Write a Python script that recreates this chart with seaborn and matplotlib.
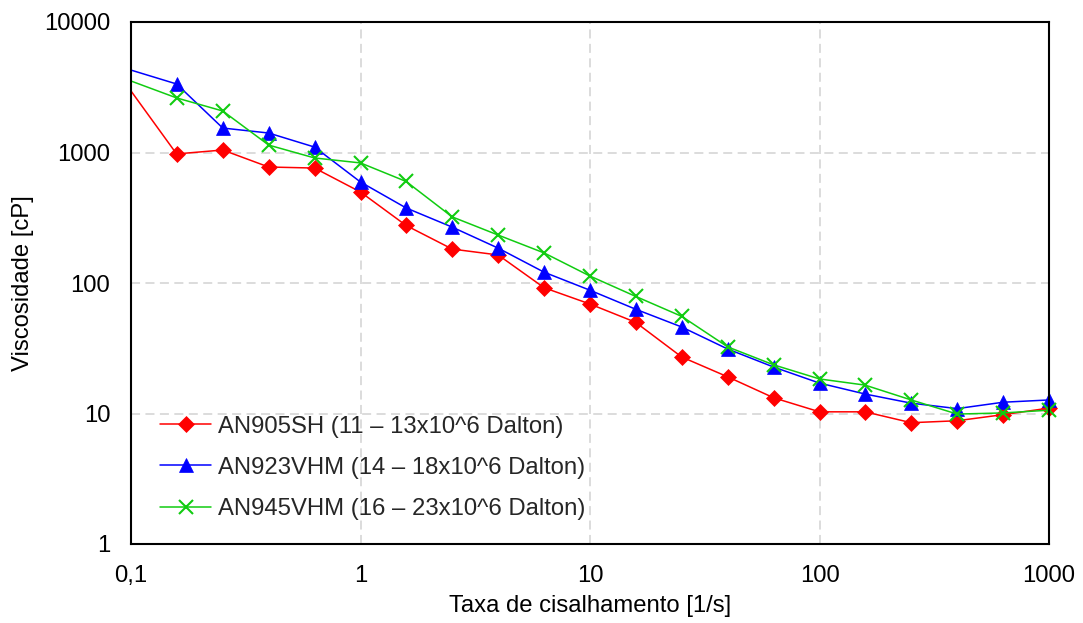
import matplotlib
matplotlib.use("Agg")
import matplotlib.pyplot as plt
import matplotlib.ticker as mticker
import numpy as np
import pandas as pd
import seaborn as sns

# Shear rates [1/s]
shear_rate = [0.1, 0.158, 0.251, 0.398, 0.631, 1.0, 1.58, 2.51, 3.98, 6.31,
              10.0, 15.8, 25.1, 39.8, 63.1, 100.0, 158.0, 251.0, 398.0, 631.0, 1000.0]

# Viscosity [cP] per polymer grade
visc_an905sh = [2960, 975, 1045, 774, 760, 498, 276, 182, 164, 92, 69, 50,
                27.1, 19.1, 13.2, 10.3, 10.3, 8.5, 8.8, 9.8, 11.0]
visc_an923vhm = [4280, 3350, 1540, 1410, 1100, 594, 376, 268, 185, 121, 88, 63,
                 46, 31.2, 22.7, 17.1, 14.1, 12.0, 10.9, 12.2, 12.7]
visc_an945vhm = [3530, 2620, 2080, 1140, 908, 832, 600, 321, 233, 170, 113, 79,
                 55.5, 32.4, 23.6, 18.4, 16.5, 12.7, 9.9, 10.1, 10.6]

series_labels = ["AN905SH (11 \u2013 13x10^6 Dalton)",
                 "AN923VHM (14 \u2013 18x10^6 Dalton)",
                 "AN945VHM (16 \u2013 23x10^6 Dalton)"]

x_ticks = [0.1, 1, 10, 100, 1000]
x_tick_labels = ["0,1", "1", "10", "100", "1000"]
y_ticks = [1, 10, 100, 1000, 10000]
y_tick_labels = ["1", "10", "100", "1000", "10000"]

sns.set_theme(style="white")
plt.rcParams["font.family"] = ["Liberation Sans", "DejaVu Sans"]

FS = 17.2

fig = plt.figure(figsize=(10.83, 6.23), dpi=100)
ax = fig.add_axes([131 / 1083, 1 - 544 / 623, (1049 - 131) / 1083, (544 - 22) / 623])

styles = [
    dict(color="#FF0000", marker="D", markersize=8, markeredgewidth=0.5),
    dict(color="#0000FF", marker="^", markersize=10, markeredgewidth=0.5),
    dict(color="#11CC11", marker="x", markersize=10, markeredgewidth=1.5),
]

for values, label, st in zip([visc_an905sh, visc_an923vhm, visc_an945vhm], series_labels, styles):
    df = pd.DataFrame({"rate": shear_rate, "visc": values})
    sns.lineplot(data=df, x="rate", y="visc", ax=ax, label=label,
                 color=st["color"], linewidth=1.1,
                 marker=st["marker"], markersize=st["markersize"],
                 markeredgewidth=st["markeredgewidth"],
                 markeredgecolor=st["color"], markerfacecolor=st["color"],
                 markevery=slice(1, None), clip_on=False)

ax.set_xscale("log")
ax.set_yscale("log")
ax.set_xlim(0.1, 1000)
ax.set_ylim(1, 10000)

ax.xaxis.set_major_locator(mticker.FixedLocator(x_ticks))
ax.xaxis.set_major_formatter(mticker.FixedFormatter(x_tick_labels))
ax.yaxis.set_major_locator(mticker.FixedLocator(y_ticks))
ax.yaxis.set_major_formatter(mticker.FixedFormatter(y_tick_labels))
ax.xaxis.set_minor_locator(mticker.NullLocator())
ax.yaxis.set_minor_locator(mticker.NullLocator())

ax.tick_params(axis="both", which="major", length=0, labelsize=FS, colors="black")
ax.tick_params(axis="x", pad=15)
ax.tick_params(axis="y", pad=15)

ax.grid(True, which="major", color="#D9D9D9", linestyle=(0, (5, 3)), linewidth=1.3)
ax.set_axisbelow(True)

for side in ["left", "right", "top", "bottom"]:
    ax.spines[side].set_visible(True)
    ax.spines[side].set_color("black")
    ax.spines[side].set_linewidth(1.5)

ax.set_xlabel("Taxa de cisalhamento [1/s]", fontsize=FS, color="black", labelpad=6)
ax.set_ylabel("Viscosidade [cP]", fontsize=FS, color="black", labelpad=7)

leg = ax.legend(loc="lower left", bbox_to_anchor=(0.008, 0.005), frameon=False,
                fontsize=FS, handlelength=2.15, handletextpad=0.28, labelspacing=0.8)

fig.savefig("out.png", dpi=100, facecolor="white")
